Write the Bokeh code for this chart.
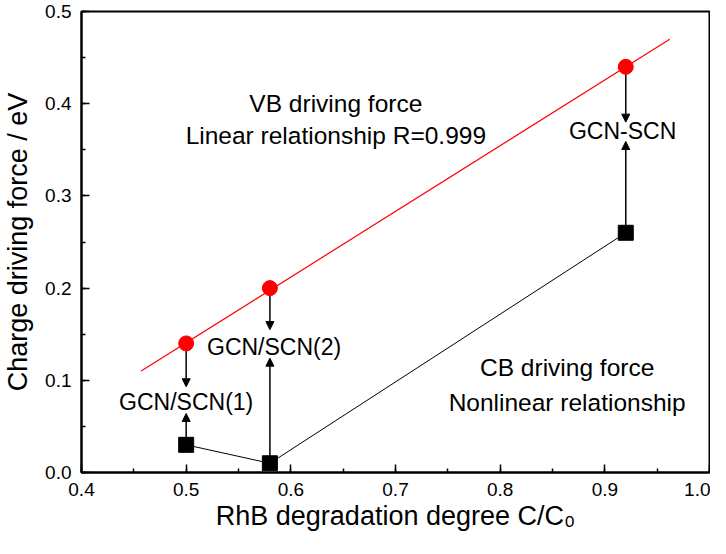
from bokeh.plotting import figure
from bokeh.models import Range1d, SingleIntervalTicker, PrintfTickFormatter, Arrow, NormalHead, ColumnDataSource
from bokeh.core.properties import value
from bokeh.embed import file_html
from bokeh.resources import INLINE

# --- data ---
rhb_x = [0.50, 0.58, 0.92]          # RhB degradation degree C/C0
vb_force = [0.14, 0.20, 0.44]       # VB driving force (red circles)
cb_force = [0.03, 0.01, 0.26]       # CB driving force (black squares)
fit_x = [0.457, 0.962]              # linear fit line ends
fit_y = [0.110, 0.470]
sample_names = ["GCN/SCN(1)", "GCN/SCN(2)", "GCN-SCN"]
name_x = [0.50, 0.584, 0.917]
name_y = [0.077, 0.136, 0.370]
down_tip_y = [0.093, 0.155, 0.380]
up_tip_y = [0.064, 0.124, 0.359]
note_text = ["VB driving force", "Linear relationship R=0.999",
             "CB driving force", "Nonlinear relationship"]
note_x = [0.643, 0.643, 0.864, 0.864]
note_y = [0.400, 0.365, 0.1136, 0.0758]

FONT = "Liberation Sans"

p = figure(width=710, height=538,
           x_range=Range1d(0.4, 1.0), y_range=Range1d(0.0, 0.5),
           output_backend="svg", toolbar_location=None,
           min_border_left=79, min_border_right=1,
           min_border_top=11, min_border_bottom=66)
p.grid.visible = False
p.outline_line_color = "black"
p.outline_line_width = 2
p.background_fill_color = "white"
p.border_fill_color = "white"

p.xaxis.ticker = SingleIntervalTicker(interval=0.1, num_minor_ticks=2)
p.yaxis.ticker = SingleIntervalTicker(interval=0.1, num_minor_ticks=2)
p.xaxis.formatter = PrintfTickFormatter(format="%.1f")
p.yaxis.formatter = PrintfTickFormatter(format="%.1f")
p.xaxis.axis_label = "RhB degradation degree C/C\u2080"
p.yaxis.axis_label = "Charge driving force / eV"
for ax in (p.xaxis, p.yaxis):
    ax.axis_line_width = 2
    ax.axis_line_color = "black"
    ax.major_tick_in = 8
    ax.major_tick_out = 0
    ax.minor_tick_in = 4
    ax.minor_tick_out = 0
    ax.major_tick_line_width = 1.5
    ax.minor_tick_line_width = 1.5
    ax.major_label_text_font = FONT
    ax.major_label_text_font_size = "19px"
    ax.major_label_text_color = "black"
    ax.axis_label_text_font = FONT
    ax.axis_label_text_font_size = "27px"
    ax.axis_label_text_font_style = "normal"
    ax.axis_label_text_color = "black"
p.xaxis.major_label_standoff = 10
p.xaxis.axis_label_standoff = 2
p.yaxis.major_label_standoff = 10
p.yaxis.axis_label_standoff = 9

# linear fit
p.line(fit_x, fit_y, line_color="#ff0000", line_width=1.2)
# CB line
p.line(rhb_x, cb_force, line_color="black", line_width=1)

# arrows
src_down = ColumnDataSource(dict(x0=rhb_x, y0=vb_force, x1=rhb_x, y1=down_tip_y))
src_up = ColumnDataSource(dict(x0=rhb_x, y0=cb_force, x1=rhb_x, y1=up_tip_y))
for src in (src_down, src_up):
    p.add_layout(Arrow(source=src, x_start="x0", y_start="y0", x_end="x1", y_end="y1",
                       line_color="black", line_width=1.5, level="underlay",
                       end=NormalHead(size=8, fill_color="black", line_color="black", line_width=1)))

p.scatter(rhb_x, vb_force, marker="circle", size=15, fill_color="#ff0000", line_color="#ff0000")
p.scatter(rhb_x, cb_force, marker="square", size=15, fill_color="black", line_color="black")

p.text(name_x, name_y, text=sample_names, text_font=value(FONT), text_font_size="23px",
       text_align="center", text_baseline="middle", text_color="black")
p.text(note_x, note_y, text=note_text, text_font=value(FONT), text_font_size="24.5px",
       text_align="center", text_baseline="middle", text_color="black")

open("out.html", "w").write(file_html(p, INLINE))
